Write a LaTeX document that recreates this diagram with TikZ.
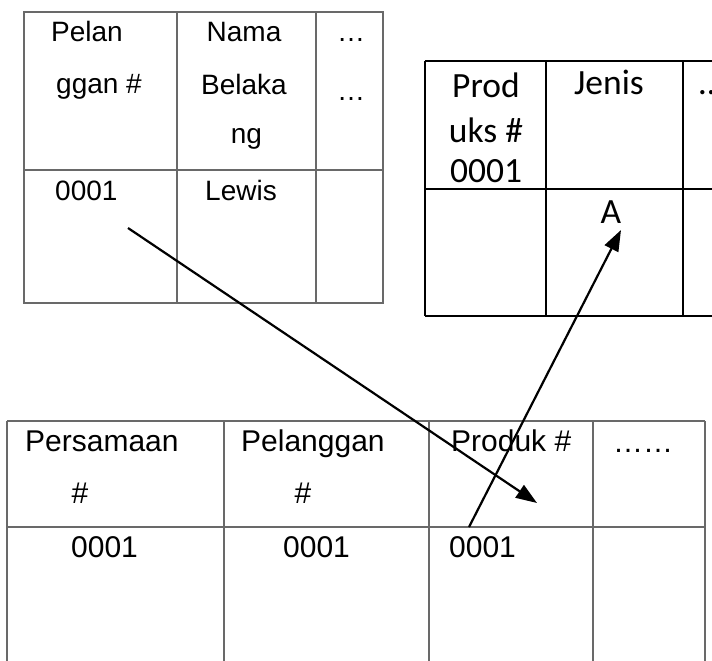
\documentclass[tikz,border=0pt]{standalone}
\usepackage{fontspec}
\setmainfont{Liberation Sans}
\newfontfamily\carlito{Carlito}
\usepackage{tikz}
\usetikzlibrary{arrows.meta}
\definecolor{rule}{RGB}{105, 105, 105}

\begin{document}
\begin{tikzpicture}[x=1pt, y=-1pt,
  grid/.style={draw=rule, line width=1.8pt},
  gridb/.style={draw=black, line width=1.6pt},
  cell/.style={inner sep=0pt, anchor=base west, font=\fontsize{28}{28}\selectfont},
  cellc/.style={cell, anchor=base},
  wide/.style={inner sep=0pt, anchor=base west, font=\fontsize{30}{30}\selectfont},
  widec/.style={wide, anchor=base},
  cal/.style={inner sep=0pt, anchor=base, font=\carlito\fontsize{35.5}{35.5}\selectfont},
  link/.style={line width=2.2pt, -{Triangle[length=21pt, width=15pt]}}]
  \clip (0, 0) rectangle (712, 661);

  % pelanggan
  \draw[grid] (24, 12) rectangle (383, 303);
  \draw[grid] (24, 170) -- (383, 170);
  \foreach \x in {177, 316}
    \draw[grid] (\x, 12) -- (\x, 303);
  \node[cell] (pelan) at (51, 42) {Pelan};
  \node[cell] (ggan) at (56, 93) {ggan \#};
  \node[cellc] (nama) at (244, 42) {Nama};
  \node[cellc] (belaka) at (244, 95) {Belaka};
  \node[cellc] (ng) at (246.5, 143) {ng};
  \node[cellc] (more1) at (351, 42) {…};
  \node[cellc] (more2) at (351, 100) {…};
  \node[cell] (custid) at (55, 200) {0001};
  \node[cell] (lewis) at (205, 200) {Lewis};

  % produk
  \draw[gridb] (425, 61) -- (730, 61);
  \draw[gridb] (425, 189) -- (730, 189);
  \draw[gridb] (425, 316) -- (730, 316);
  \foreach \x in {425, 546, 683}
    \draw[gridb] (\x, 61) -- (\x, 316);
  \node[cal] (prod) at (486, 97) {Prod};
  \node[cal] (uks) at (486, 142) {uks \#};
  \node[cal] (prodid) at (486, 182) {0001};
  \node[cal] (jenis) at (609, 95) {Jenis};
  \node[cal] (jenisa) at (611, 223) {A};
  \node[cal, anchor=base west] (more3) at (699, 95) {…};

  % persamaan
  \draw[grid] (7, 421) -- (705, 421);
  \draw[grid] (7, 527) -- (705, 527);
  \foreach \x in {7, 224, 429, 593, 705}
    \draw[grid] (\x, 421) -- (\x, 700);
  \node[wide] (pers) at (25, 451) {Persamaan};
  \node[widec] (pershash) at (80, 503) {\#};
  \node[wide] (plg) at (241, 451) {Pelanggan};
  \node[widec] (plghash) at (303, 503) {\#};
  \node[wide] (produk) at (451, 451) {Produk \#};
  \node[wide] (more4) at (613, 452) {……};
  \node[wide] (persid) at (71, 557) {0001};
  \node[wide] (plgid) at (283, 557) {0001};
  \node[wide] (prodref) at (449, 557) {0001};

  \coordinate (custkey) at (128, 228);
  \coordinate (ordcell) at (537, 503);
  \coordinate (ordkey) at (469, 527);
  \coordinate (prodtype) at (621, 230);
  \draw[link] (custkey) -- (ordcell);
  \draw[link] (ordkey) -- (prodtype);
\end{tikzpicture}
\end{document}
